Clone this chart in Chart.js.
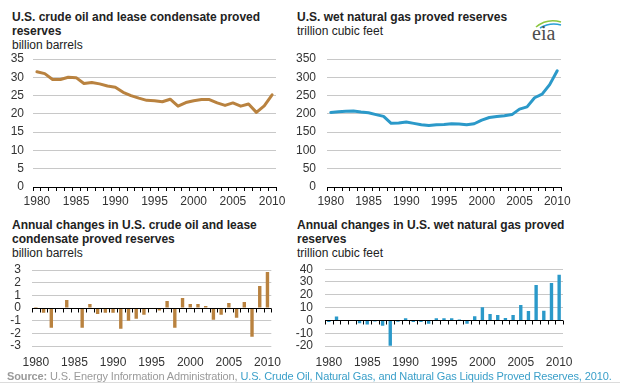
<!doctype html>
<html lang="en">
<head>
    <meta charset="utf-8">
    <title>U.S. crude oil and natural gas proved reserves</title>
    <script src="https://cdn.jsdelivr.net/npm/chart.js"></script>
    <style>
        body { margin: 0; width: 620px; height: 387px; background: #fff; position: relative; overflow: hidden;
               font-family: Arial, "Liberation Sans", sans-serif; }
        .title { position: absolute; font-size: 12px; line-height: 14px; color: #222; white-space: nowrap; }
        .title b { display: block; }
        canvas { position: absolute; }
        #logo { position: absolute; left: 530px; top: 17px; width: 34px; height: 26px; }
        #logo span { position: absolute; left: 2px; top: 5px; font: 20px "Liberation Serif", "DejaVu Serif", serif; color: #4d4d4d; }
        #source { position: absolute; left: 7px; top: 369px; font-size: 11px; letter-spacing: -0.13px; line-height: 14px; color: #9a9a9a; white-space: nowrap; }
        #source b { color: #9a9a9a; }
        #source a { color: #3a9fc9; text-decoration: none; }
        #rule { position: absolute; left: 0; top: 382px; width: 620px; border-top: 1px solid #dcdcdc; }
    </style>
</head>
<body>
<script>
    // values
    var years = ['1980', '1981', '1982', '1983', '1984', '1985', '1986', '1987', '1988', '1989',
                 '1990', '1991', '1992', '1993', '1994', '1995', '1996', '1997', '1998', '1999',
                 '2000', '2001', '2002', '2003', '2004', '2005', '2006', '2007', '2008', '2009', '2010'];

    // billion barrels
    var oilReserves = [31.5, 31.0, 29.4, 29.4, 30.0, 29.9, 28.3, 28.6, 28.2, 27.6,
                       27.3, 25.9, 25.0, 24.3, 23.7, 23.6, 23.3, 24.0, 22.1, 23.1,
                       23.6, 23.9, 23.9, 23.0, 22.3, 23.0, 22.1, 22.7, 20.4, 22.2, 25.2];

    // trillion cubic feet
    var gasReserves = [204, 206, 207, 208, 205, 203, 198, 193, 174, 175,
                       178, 174, 170, 168, 170, 171, 173, 172, 170, 173,
                       183, 190, 193, 195, 198, 213, 219, 244, 254, 280, 318];

    var oilChanges = [0.08, -0.37, -1.55, -0.05, 0.63, -0.05, -1.55, 0.32, -0.47, -0.37,
                      -0.37, -1.63, -1.0, -0.84, -0.53, -0.05, -0.2, 0.55, -1.55, 0.79,
                      0.32, 0.32, 0.16, -0.92, -0.53, 0.39, -0.76, 0.47, -2.26, 1.74, 2.84];

    var gasChanges = [-1.3, 3.1, 0, 0, -2.2, -3.2, -0.8, -4.2, -19.8, -1.0,
                      1.7, -1.3, -1.3, -2.6, 1.6, 1.6, 1.6, 0.8, -2.6, 3.2,
                      10.2, 5.0, 4.2, 1.8, 4.2, 12.0, 7.3, 27.7, 7.6, 29.3, 35.6];

    var oilColor = '#b9823f';
    var gasColor = '#2b99c9';
    var gridColor = '#c8c8c8';

    Chart.defaults.font.family = 'Arial, "Liberation Sans", sans-serif';
    Chart.defaults.font.size = 12;
    Chart.defaults.color = '#333';

    function everyFifth(value, index) {
        return index % 5 === 0 ? years[index] : '';
    }

    // black axis line at y = 0 with small tick marks between the years
    var zeroAxis = {
        id: 'zeroAxis',
        afterDatasetsDraw: function (chart) {
            var ctx = chart.ctx, x = chart.scales.x, y = chart.scales.y;
            var y0 = Math.round(y.getPixelForValue(0)) + 0.5;
            var half = (x.getPixelForValue(1) - x.getPixelForValue(0)) / 2;
            ctx.save();
            ctx.strokeStyle = '#000';
            ctx.lineWidth = 1;
            ctx.beginPath();
            ctx.moveTo(x.left, y0);
            ctx.lineTo(x.right, y0);
            for (var i = 0; i <= years.length; i++) {
                var px = Math.round(x.getPixelForValue(i) - half) + 0.5;
                ctx.moveTo(px, y0);
                ctx.lineTo(px, y0 + 4);
            }
            ctx.stroke();
            ctx.restore();
        }
    };

    // the gap between labels and plot comes from an invisible tick mark,
    // ticks.padding would also push the plot area down
    function yAxis(min, max, step, width, gap) {
        return {
            min: min, max: max,
            ticks: {stepSize: step, padding: 0, autoSkip: false},
            grid: {color: gridColor, drawTicks: true, tickLength: gap, tickColor: 'rgba(0,0,0,0)'},
            border: {display: false},
            afterFit: function (s) { s.width = width; }
        };
    }

    function lineChart(id, values, color, yMax, yStep, yWidth, yGap, padRight) {
        return new Chart(document.getElementById(id), {
            type: 'line',
            data: {
                labels: years,
                datasets: [{
                    data: values,
                    borderColor: color,
                    borderWidth: 3,
                    pointRadius: 0,
                    borderJoinStyle: 'round',
                    borderCapStyle: 'round'
                }]
            },
            options: {
                responsive: false,
                animation: false,
                layout: {padding: {top: 9, right: padRight, bottom: 0, left: 0}},
                plugins: {legend: {display: false}, tooltip: {enabled: false}},
                scales: {
                    x: {
                        offset: true,
                        grid: {offset: true, drawOnChartArea: false, color: '#000', tickLength: 4},
                        border: {color: '#000'},
                        ticks: {autoSkip: false, maxRotation: 0, padding: 3, callback: everyFifth},
                        afterFit: function (s) { s.height = 25; }
                    },
                    y: yAxis(0, yMax, yStep, yWidth, yGap)
                }
            }
        });
    }

    function barChart(id, values, color, yMin, yMax, yStep, yWidth, yGap, padTop, padRight) {
        return new Chart(document.getElementById(id), {
            type: 'bar',
            data: {
                labels: years,
                datasets: [{
                    data: values,
                    backgroundColor: color,
                    barPercentage: 0.44,
                    categoryPercentage: 1
                }]
            },
            options: {
                responsive: false,
                animation: false,
                layout: {padding: {top: padTop, right: padRight, bottom: 0, left: 0}},
                plugins: {legend: {display: false}, tooltip: {enabled: false}},
                scales: {
                    x: {
                        grid: {display: false, drawTicks: false},
                        border: {display: false},
                        ticks: {autoSkip: false, maxRotation: 0, padding: 9, callback: everyFifth},
                        afterFit: function (s) { s.height = 28; }
                    },
                    y: yAxis(yMin, yMax, yStep, yWidth, yGap)
                }
            },
            plugins: [zeroAxis]
        });
    }
</script>

<div class="title" style="left:12px; top:10px;"><b>U.S. crude oil and lease condensate proved</b><b>reserves</b>billion barrels</div>
<div class="title" style="left:297px; top:10px;"><b>U.S. wet natural gas proved reserves</b>trillion cubic feet</div>
<div class="title" style="left:12px; top:218px;"><b>Annual changes in U.S. crude oil and lease</b><b>condensate proved reserves</b>billion barrels</div>
<div class="title" style="left:297px; top:218px;"><b>Annual changes in U.S. wet natural gas proved</b><b>reserves</b>trillion cubic feet</div>

<div id="logo">
    <svg width="34" height="12" style="position:absolute; left:0; top:0;">
        <path d="M6 10 Q17 1 31 5" stroke="#8cc63f" stroke-width="1.6" fill="none"/>
        <path d="M10 11 Q20 5 31 8" stroke="#2a9fd6" stroke-width="1.6" fill="none"/>
    </svg>
    <span>eia</span>
</div>

<canvas id="oilLine" width="290" height="162" style="left:0; top:50px;"></canvas>
<canvas id="gasLine" width="300" height="162" style="left:290px; top:50px;"></canvas>
<canvas id="oilBars" width="290" height="112" style="left:0; top:262px;"></canvas>
<canvas id="gasBars" width="300" height="112" style="left:290px; top:262px;"></canvas>

<div id="source"><b>Source:</b> U.S. Energy Information Administration, <a>U.S. Crude Oil, Natural Gas, and Natural Gas Liquids Proved Reserves, 2010.</a></div>
<div id="rule"></div>

<script>
    lineChart('oilLine', oilReserves, oilColor, 35, 5, 33, 9, 14);
    lineChart('gasLine', gasReserves, gasColor, 350, 50, 37, 11, 29);
    barChart('oilBars', oilChanges, oilColor, -3, 3, 1, 32, 11, 8, 12);
    barChart('gasBars', gasChanges, gasColor, -20, 40, 10, 35, 12, 7, 27);
</script>
</body>
</html>
